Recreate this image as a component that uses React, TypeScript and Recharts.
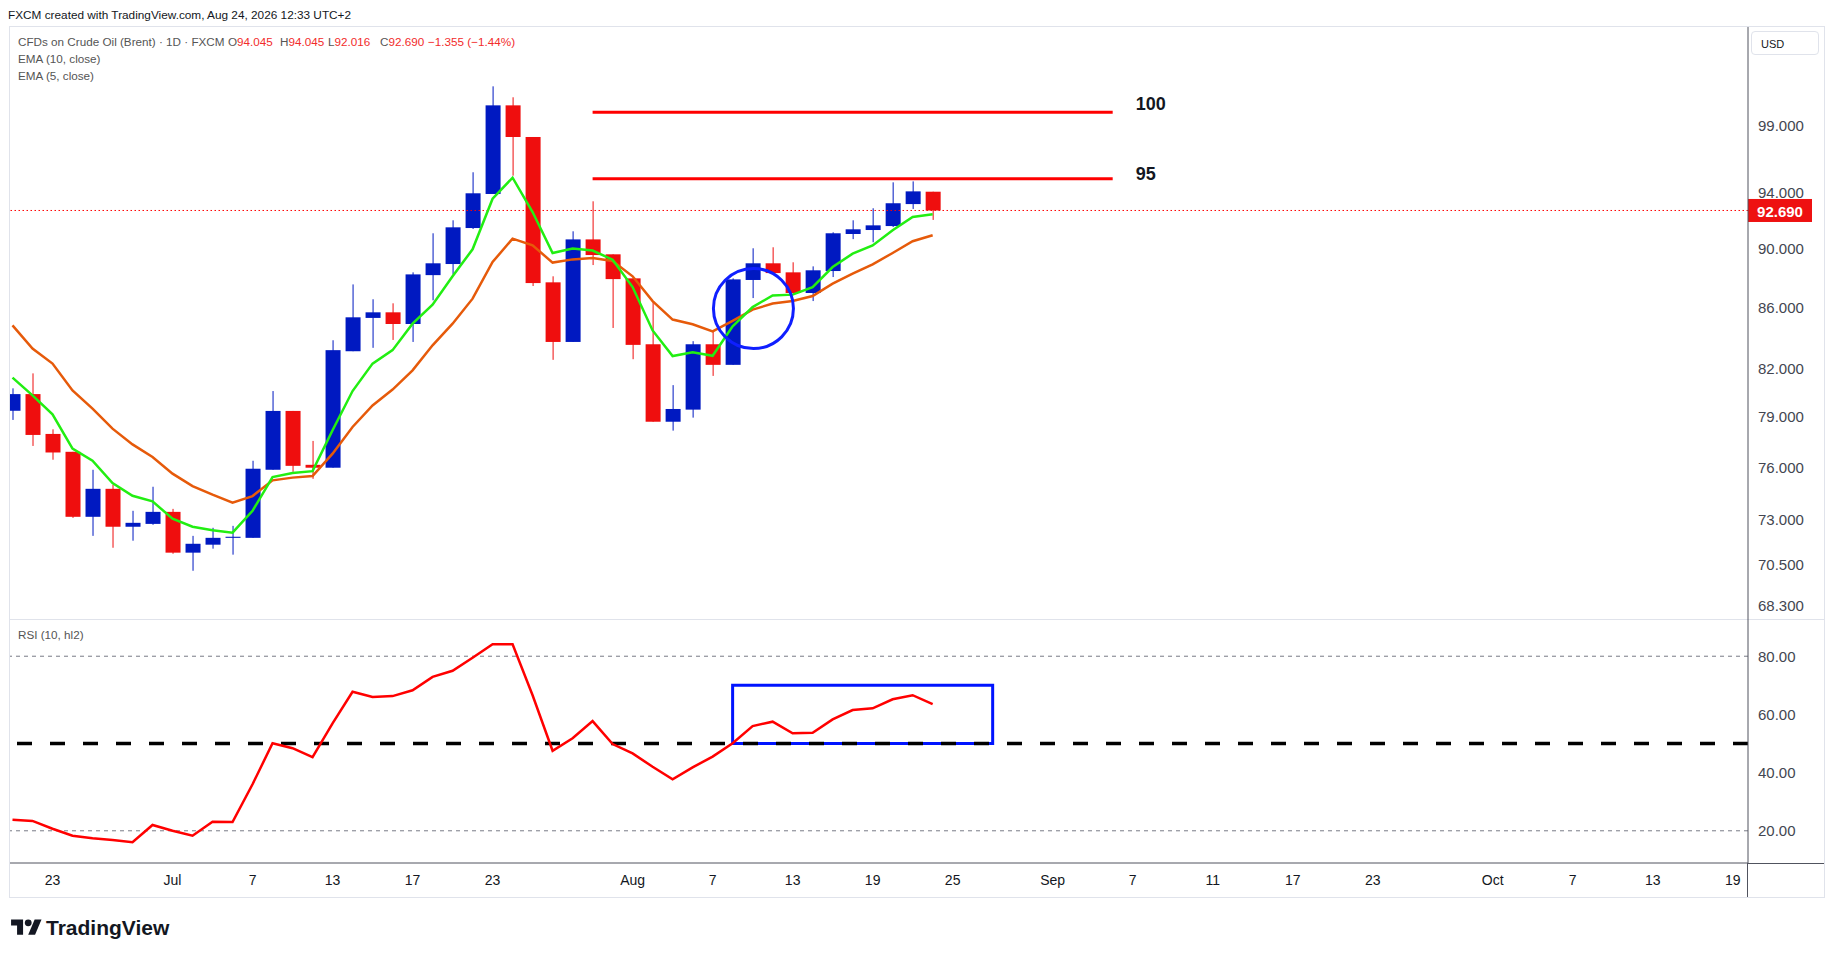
import React from 'react';
import {
  ComposedChart,
  Bar,
  Line,
  XAxis,
  YAxis,
  ReferenceLine,
  ReferenceDot,
  ReferenceArea
} from 'recharts';

// daily candles, Jun 19 .. Aug 24 (trading days, index 0..46)
const opens = [
  79.39, 80.42, 77.98, 76.91, 73.14, 74.74, 72.58, 72.74, 73.42, 71.14,
  71.58, 71.96, 71.96, 75.85, 79.38, 76.14, 75.97, 83.13, 85.30, 85.67,
  84.90, 88.17, 88.93, 91.44, 93.88, 100.54, 98.11, 87.68, 83.73, 90.64,
  89.60, 87.95, 83.58, 78.72, 79.46, 83.58, 82.26, 87.84, 88.98, 88.36,
  86.96, 88.45, 91.02, 91.30, 91.58, 93.15, 94.045
];
const highs = [
  80.78, 81.72, 78.26, 76.91, 75.85, 74.98, 73.48, 74.86, 73.59, 72.07,
  72.52, 72.63, 76.38, 80.61, 79.38, 77.56, 83.84, 87.54, 86.54, 86.27,
  88.36, 91.07, 91.99, 95.47, 102.03, 101.17, 98.11, 88.09, 91.21, 93.35,
  89.60, 87.95, 86.36, 80.98, 83.78, 84.38, 87.95, 90.02, 90.09, 89.05,
  88.77, 91.14, 91.99, 92.85, 94.73, 94.80, 94.045
];
const lows = [
  78.83, 77.26, 76.44, 73.08, 72.07, 71.41, 71.80, 72.69, 71.08, 70.15,
  71.36, 71.03, 71.96, 75.85, 75.73, 75.32, 75.97, 83.13, 83.35, 83.86,
  83.73, 86.47, 88.22, 91.37, 93.88, 95.22, 87.43, 82.58, 83.73, 88.86,
  84.64, 82.62, 78.72, 78.18, 78.97, 81.56, 82.26, 86.62, 88.31, 86.96,
  86.42, 88.04, 90.66, 90.44, 91.51, 92.80, 92.016
];
const closes = [
  80.42, 77.92, 76.87, 73.14, 74.74, 72.58, 72.80, 73.42, 71.14, 71.63,
  71.96, 72.02, 75.91, 79.38, 76.08, 75.97, 83.20, 85.34, 85.67, 84.90,
  88.22, 88.98, 91.49, 93.93, 100.54, 98.11, 87.63, 83.73, 90.64, 89.55,
  87.90, 83.54, 78.72, 79.50, 83.58, 82.26, 87.88, 88.98, 88.31, 86.96,
  88.50, 91.07, 91.35, 91.63, 93.21, 94.07, 92.69
];

const ema5 = [
  81.45, 80.34, 79.17, 77.10, 76.38, 75.07, 74.34, 74.02, 73.03, 72.58,
  72.38, 72.25, 73.48, 75.42, 75.66, 75.77, 78.20, 80.61, 82.34, 83.20,
  84.92, 86.18, 88.09, 89.95, 93.54, 95.07, 92.58, 89.69, 90.00, 89.86,
  89.23, 87.36, 84.48, 82.82, 83.06, 82.84, 84.75, 86.02, 86.80, 86.85,
  87.36, 88.72, 89.65, 90.22, 91.28, 92.22, 92.42
];
const ema10 = [
  84.81, 83.30, 82.34, 80.65, 79.52, 78.30, 77.35, 76.60, 75.62, 74.90,
  74.40, 73.94, 74.32, 75.23, 75.39, 75.48, 76.80, 78.40, 79.72, 80.70,
  81.91, 83.51, 84.92, 86.58, 89.07, 90.69, 90.22, 89.03, 89.25, 89.34,
  89.14, 88.09, 86.42, 85.19, 84.88, 84.42, 85.10, 85.85, 86.25, 86.42,
  86.76, 87.59, 88.27, 88.91, 89.69, 90.51, 90.93
];
const rsi10 = [
  23.8, 23.4, 20.7, 18.3, 17.4, 16.8, 16.1, 22.0, 20.0, 18.3,
  23.1, 23.0, 36.0, 50.1, 48.4, 45.3, 56.9, 67.8, 66.0, 66.3,
  68.3, 72.9, 75.0, 79.5, 84.1, 84.1, 66.6, 47.5, 51.8, 57.7,
  49.8, 46.6, 42.0, 37.7, 41.8, 45.5, 50.1, 56.0, 57.5, 53.5,
  53.7, 58.3, 61.5, 62.1, 65.2, 66.6, 63.5
];

// x axis (trading-day index -> label)
const tickIdx = [2, 8, 12, 16, 20, 24, 31, 35, 39, 43, 47, 52, 56, 60, 64, 68, 74, 78, 82, 86];
const tickLabels = ['23', 'Jul', '7', '13', '17', '23', 'Aug', '7', '13', '19', '25', 'Sep', '7', '11', '17', '23', 'Oct', '7', '13', '19'];

const priceTicks = [68.3, 70.5, 73, 76, 79, 82, 86, 90, 94, 99];
const rsiTicks = [20, 40, 60, 80];
const levels = [100, 95];
const lastClose = 92.69;
const ohlc = [
  { k: 'O', v: '94.045', x: 228 },
  { k: 'H', v: '94.045', x: 280 },
  { k: 'L', v: '92.016', x: 328 },
  { k: 'C', v: '92.690', x: 380 }
];

const X_DOMAIN: [number, number] = [-0.125, 86.76];
const UP = '#0019c1';
const DOWN = '#ef0e0e';
const FONT = '"Liberation Sans", Arial, sans-serif';

const data = closes.map((c, i) => ({
  i,
  wick: [lows[i], highs[i]],
  body: [Math.min(opens[i], c), Math.max(opens[i], c)],
  up: c >= opens[i],
  ema5: ema5[i],
  ema10: ema10[i],
  rsi: rsi10[i]
}));

const Body = (props: any) => {
  const { x, y, width, height, payload } = props;
  return <rect x={x} y={y} width={width} height={Math.max(height, 1)} fill={payload.up ? UP : DOWN} />;
};

const Wick = (props: any) => {
  const { x, y, width, height, payload } = props;
  return <rect x={x + width / 2 - 0.5} y={y} width={1} height={Math.max(height, 1)} fill={payload.up ? UP : DOWN} />;
};

const levelLabel = (lvl: number) => (props: any) => {
  const vb = props.viewBox || {};
  return (
    <text
      x={vb.x + vb.width + 23}
      y={vb.y + (lvl === 100 ? -8 : -5)}
      dominantBaseline="central"
      fontSize={18}
      fontWeight="bold"
      fontFamily={FONT}
      fill="#131722"
    >
      {lvl}
    </text>
  );
};

const PriceTag = (props: any) => {
  const vb = props.viewBox || {};
  const x0 = vb.x + vb.width;
  return (
    <g>
      <rect x={x0} y={vb.y - 11.5} width={64} height={23} fill="#ee1111" />
      <text x={x0 + 32} y={vb.y + 1} textAnchor="middle" dominantBaseline="central" fontSize={15} fontWeight="bold" fontFamily={FONT} fill="#ffffff">
        {lastClose.toFixed(3)}
      </text>
    </g>
  );
};

const abs = (style: React.CSSProperties): React.CSSProperties => ({ position: 'absolute', ...style });
const legendText: React.CSSProperties = { fontSize: 11.7, lineHeight: '16px', color: '#555', whiteSpace: 'nowrap' };

export default function App() {
  const axisTick = { fontSize: 15, fill: '#434651', fontFamily: FONT };
  return (
    <div style={abs({ left: 0, top: 0, width: 1835, height: 959, background: '#ffffff', fontFamily: FONT, overflow: 'hidden' })}>
      <div style={abs({ left: 8, top: 7, fontSize: 11.8, lineHeight: '16px', color: '#131722', whiteSpace: 'nowrap' })}>
        FXCM created with TradingView.com, Aug 24, 2026 12:33 UTC+2
      </div>

      {/* frame */}
      <div style={abs({ left: 9, top: 26, width: 1814, height: 870, border: '1px solid #e0e3eb' })} />
      <div style={abs({ left: 9, top: 619, width: 1815, height: 1, background: '#e0e3eb' })} />

      {/* price pane */}
      <div style={abs({ left: 0, top: 0 })}>
        <ComposedChart width={1824} height={620} data={data} margin={{ top: 27, right: 0, bottom: 0, left: 10 }}>
          <XAxis xAxisId="w" dataKey="i" type="number" domain={X_DOMAIN} allowDataOverflow hide />
          <XAxis xAxisId="b" dataKey="i" type="number" domain={X_DOMAIN} allowDataOverflow hide />
          <YAxis
            yAxisId="p"
            orientation="right"
            width={76}
            scale="log"
            domain={[67.53, 106.82]}
            allowDataOverflow
            ticks={priceTicks}
            interval={0}
            tickFormatter={(v: number) => v.toFixed(3)}
            axisLine={{ stroke: '#50535e' }}
            tickLine={false}
            tickSize={0}
            tickMargin={10}
            tick={axisTick}
          />
          <ReferenceLine
            xAxisId="b"
            yAxisId="p"
            y={lastClose}
            stroke="#ff0000"
            strokeWidth={1}
            strokeDasharray="1.5 2.5"
            label={PriceTag}
          />
          <Bar xAxisId="w" yAxisId="p" dataKey="wick" barSize={1} shape={Wick} isAnimationActive={false} />
          <Bar xAxisId="b" yAxisId="p" dataKey="body" barSize={15} shape={Body} isAnimationActive={false} />
          <Line xAxisId="b" yAxisId="p" type="linear" dataKey="ema10" stroke="#e65a0a" strokeWidth={2.5} dot={false} isAnimationActive={false} />
          <Line xAxisId="b" yAxisId="p" type="linear" dataKey="ema5" stroke="#22ee12" strokeWidth={2.5} dot={false} isAnimationActive={false} />
          {levels.map((lvl) => (
            <ReferenceLine
              key={lvl}
              xAxisId="b"
              yAxisId="p"
              segment={[{ x: 29, y: lvl }, { x: 55, y: lvl }]}
              stroke="#ff0000"
              strokeWidth={3}
              label={levelLabel(lvl)}
            />
          ))}
          <ReferenceDot xAxisId="b" yAxisId="p" x={37.04} y={85.92} r={40} fill="none" stroke="#0f1fff" strokeWidth={3} />
        </ComposedChart>
      </div>

      {/* RSI pane */}
      <div style={abs({ left: 0, top: 620 })}>
        <ComposedChart width={1824} height={277} data={data} margin={{ top: 0, right: 0, bottom: 0, left: 10 }}>
          <XAxis
            xAxisId="b"
            dataKey="i"
            type="number"
            domain={X_DOMAIN}
            allowDataOverflow
            ticks={tickIdx}
            interval={0}
            tickFormatter={(v: number) => tickLabels[tickIdx.indexOf(v)] ?? ''}
            height={34}
            axisLine={{ stroke: '#50535e' }}
            tickLine={false}
            tickSize={0}
            tickMargin={12}
            tick={{ fontSize: 14, fill: '#131722', fontFamily: FONT }}
          />
          <YAxis
            yAxisId="r"
            orientation="right"
            width={76}
            domain={[8.93, 92.45]}
            allowDataOverflow
            ticks={rsiTicks}
            interval={0}
            tickFormatter={(v: number) => v.toFixed(2)}
            axisLine={{ stroke: '#50535e' }}
            tickLine={false}
            tickSize={0}
            tickMargin={10}
            tick={axisTick}
          />
          <ReferenceLine xAxisId="b" yAxisId="r" y={80} stroke="#787b86" strokeWidth={1} strokeDasharray="4 4" />
          <ReferenceLine xAxisId="b" yAxisId="r" y={20} stroke="#787b86" strokeWidth={1} strokeDasharray="4 4" />
          <ReferenceArea xAxisId="b" yAxisId="r" x1={36} x2={49} y1={50} y2={70} fill="none" fillOpacity={0} stroke="#0014ff" strokeWidth={3} />
          <ReferenceLine xAxisId="b" yAxisId="r" y={50} stroke="#000000" strokeWidth={3.5} strokeDasharray="15 18" />
          <Line xAxisId="b" yAxisId="r" type="linear" dataKey="rsi" stroke="#ff0000" strokeWidth={2.5} dot={false} isAnimationActive={false} />
        </ComposedChart>
      </div>

      {/* axis corner lines */}
      <div style={abs({ left: 1748, top: 863, width: 76, height: 1, background: '#50535e' })} />
      <div style={abs({ left: 1747, top: 863, width: 1, height: 34, background: '#50535e' })} />

      {/* USD badge */}
      <div style={abs({ left: 1751, top: 31, width: 68, height: 24, border: '1px solid #e0e3eb', borderRadius: 4, fontSize: 11, lineHeight: '24px', color: '#131722', paddingLeft: 9, boxSizing: 'border-box' })}>
        USD
      </div>

      {/* legends */}
      <div style={abs({ left: 18, top: 34, ...legendText })}>CFDs on Crude Oil (Brent) · 1D · FXCM</div>
      {ohlc.map((o) => (
        <div key={o.k} style={abs({ left: o.x, top: 34, ...legendText })}>
          {o.k}
          <span style={{ color: '#f22b2b' }}>{o.v}</span>
        </div>
      ))}
      <div style={abs({ left: 428, top: 34, ...legendText, color: '#f22b2b' })}>−1.355 (−1.44%)</div>
      <div style={abs({ left: 18, top: 51, ...legendText })}>EMA (10, close)</div>
      <div style={abs({ left: 18, top: 68, ...legendText })}>EMA (5, close)</div>
      <div style={abs({ left: 18, top: 627, ...legendText })}>RSI (10, hl2)</div>

      {/* TradingView logo */}
      <div style={abs({ left: 11, top: 916, height: 24, display: 'flex', alignItems: 'center' })}>
        <svg width={31} height={24} viewBox="0 0 36 28">
          <path d="M14 22H7V11H0V4h14v18z" fill="#131722" />
          <circle cx={20} cy={8} r={4} fill="#131722" />
          <path d="M28 22h-8l7.5-18h8L28 22z" fill="#131722" />
        </svg>
        <span style={{ marginLeft: 4, fontSize: 21, fontWeight: 'bold', color: '#131722' }}>TradingView</span>
      </div>
    </div>
  );
}
